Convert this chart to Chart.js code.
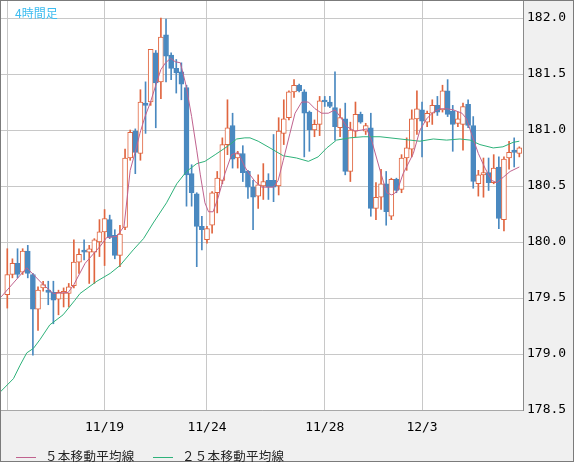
<!DOCTYPE html>
<html>
<head>
<meta charset="utf-8">
<script src="https://cdn.jsdelivr.net/npm/chart.js@4.4.1/dist/chart.umd.min.js"></script>
<style>
html, body { margin: 0; padding: 0; }
body { width: 574px; height: 462px; overflow: hidden; }
#wrap { position: relative; width: 574px; height: 462px; box-sizing: border-box;
        border: 1px solid #7b7b7b; background: #f0f0f0; }
#chart { position: absolute; left: 0; top: 0; }
#title { position: absolute; left: 14px; top: 3px; font: 12px "Noto Sans CJK JP", sans-serif;
         color: #3cbcf0; }
.lg { position: absolute; top: 445px; font: 12.5px "Noto Sans CJK JP", sans-serif; color: #222;
      letter-spacing: 0.3px; }
.lg span { display: inline-block; width: 20px; height: 1px; vertical-align: middle; margin-right: 9px; }
</style>
</head>
<body>
<div id="wrap">
  <canvas id="chart" width="572" height="460"></canvas>
  <div id="title">4時間足</div>
  <div class="lg" style="left:15px"><span style="background:#c0628e"></span>５本移動平均線</div>
  <div class="lg" style="left:152px"><span style="background:#2eb27a"></span>２５本移動平均線</div>
</div>
<script>
// 4h candles, index 0..100
var open  = [179.53,179.71,179.81,179.73,179.92,179.71,179.40,179.59,179.57,179.55,
             179.49,179.54,179.54,179.61,179.82,179.92,179.91,179.91,180.00,180.09,
             180.20,180.06,179.88,180.13,180.75,180.99,180.79,181.24,181.25,181.69,
             181.43,181.85,181.67,181.55,181.52,181.38,180.61,180.43,180.14,180.02,
             180.15,180.44,180.55,180.87,181.04,180.75,180.79,180.63,180.49,180.41,
             180.50,180.55,180.55,180.50,180.97,181.11,181.34,181.40,181.34,181.16,
             181.00,181.05,181.26,181.25,181.20,181.02,181.10,180.63,180.99,181.14,
             180.99,181.02,180.30,180.40,180.52,180.23,180.56,180.47,180.75,180.83,
             181.10,181.18,181.07,181.15,181.22,181.18,181.35,181.17,181.06,181.05,
             181.23,181.04,180.52,180.60,180.62,180.53,180.67,180.20,180.75,180.82,
             180.79];
var high  = [179.94,179.85,179.94,179.94,179.97,179.72,179.60,179.65,179.65,179.65,
             179.57,179.59,179.63,180.02,179.94,180.02,179.97,180.03,180.20,180.29,
             180.24,180.11,180.15,180.83,181.00,181.01,181.36,181.43,181.72,181.71,
             182.00,181.99,181.69,181.63,181.60,181.40,180.69,180.44,180.23,180.14,
             180.45,180.63,180.93,181.27,181.15,180.81,180.86,180.64,180.55,180.60,
             180.70,180.61,180.96,181.11,181.27,181.35,181.45,181.41,181.36,181.17,
             181.09,181.30,181.30,181.30,181.52,181.19,181.24,181.07,181.25,181.16,
             181.06,181.15,180.53,180.65,180.63,180.57,180.57,180.78,180.93,181.18,
             181.35,181.25,181.17,181.27,181.30,181.40,181.45,181.22,181.16,181.24,
             181.27,181.12,180.64,180.75,180.75,180.78,180.76,180.76,180.90,180.93,
             180.85];
var low   = [179.41,179.68,179.68,179.71,179.68,178.99,179.21,179.56,179.44,179.27,
             179.35,179.42,179.42,179.59,179.72,179.84,179.63,179.63,179.87,179.79,
             180.03,179.85,179.78,180.11,180.73,180.61,180.73,180.97,181.22,181.02,
             181.28,181.43,181.45,181.33,181.27,180.32,180.32,179.78,179.93,179.99,
             180.08,180.26,180.52,180.78,180.66,180.66,180.54,180.39,180.11,180.30,
             180.38,180.38,180.36,180.42,180.87,181.09,181.29,181.34,180.76,180.81,
             180.94,180.95,181.21,181.20,180.91,180.94,180.60,180.54,180.94,181.06,
             180.96,180.23,180.20,180.29,180.15,180.20,180.44,180.44,180.64,180.76,
             180.96,180.76,181.03,181.05,181.13,181.16,181.12,180.81,181.03,180.82,
             181.02,180.48,180.41,180.40,180.46,180.52,180.12,180.10,180.65,180.67,
             180.76];
var close = [179.71,179.81,179.71,179.92,179.72,179.40,179.57,179.62,179.55,179.48,
             179.55,179.56,179.60,179.82,179.89,179.91,179.94,180.02,180.09,180.21,
             180.04,179.88,180.07,180.75,180.98,180.80,181.25,181.22,181.72,181.42,
             181.83,181.66,181.55,181.51,181.41,180.60,180.44,180.14,180.11,180.12,
             180.44,180.57,180.87,181.02,180.74,180.79,180.62,180.49,180.40,180.51,
             180.54,180.49,180.49,180.99,181.10,181.34,181.40,181.35,181.15,181.00,
             181.05,181.26,181.25,181.21,181.03,181.11,180.63,181.00,181.14,181.07,
             181.04,180.30,180.40,180.52,180.27,180.56,180.46,180.75,180.84,181.10,
             181.19,181.08,181.15,181.22,181.16,181.35,181.14,181.05,181.10,181.21,
             181.04,180.54,180.60,180.62,180.53,180.66,180.21,180.74,180.80,180.80,
             180.84];

// moving averages (candle index, price)
var ma5Idx = [-1.2,3.8,7.0,9.0,11.9,13.0,15.2,18.1,19.4,21.4,22.8,24.0,24.9,25.9,26.9,27.9,
              29.0,30.0,30.9,31.9,32.8,33.8,34.9,36.0,37.0,37.7,38.6,39.3,40.2,41.2,42.5,
              43.8,45.1,46.4,47.4,48.4,49.7,50.7,52.0,52.9,53.9,55.2,56.2,57.5,58.8,60.1,
              61.4,62.7,64.0,65.0,66.3,67.9,69.2,70.2,71.2,72.8,74.1,75.1,76.1,77.3,79.3,
              80.6,81.9,83.2,84.5,85.8,87.1,88.8,89.7,90.7,92.0,93.3,94.6,95.6,96.9,98.2,100];
var ma5Val = [179.51,179.77,179.62,179.54,179.55,179.62,179.81,179.96,180.04,180.05,180.14,
              180.64,180.79,180.97,181.12,181.24,181.40,181.54,181.60,181.64,181.61,181.60,
              181.40,181.12,180.82,180.60,180.35,180.27,180.27,180.40,180.61,180.78,180.80,
              180.67,180.60,180.54,180.49,180.49,180.49,180.55,180.73,180.97,181.15,181.25,
              181.25,181.19,181.15,181.15,181.18,181.12,181.03,180.99,181.00,181.01,180.90,
              180.64,180.44,180.42,180.45,180.61,180.79,181.00,181.10,181.16,181.19,181.19,
              181.18,181.15,181.10,180.96,180.79,180.66,180.55,180.53,180.58,180.63,180.67];
var ma25Idx = [-1.4,1.2,2.5,3.8,5.1,6.4,8.3,10.9,13.2,14.2,17.5,20.1,22.0,24.6,26.6,28.5,
               31.1,33.1,35.0,37.0,38.6,40.6,43.2,44.8,46.4,47.4,49.0,51.3,53.9,56.5,58.8,
               60.7,62.4,64.3,66.9,69.5,72.8,76.7,80.6,83.2,85.8,88.4,90.4,92.3,94.9,96.8,
               98.8,100];
var ma25Val = [178.66,178.78,178.90,179.01,179.05,179.13,179.26,179.35,179.48,179.54,179.65,
               179.72,179.79,179.93,180.03,180.17,180.35,180.52,180.63,180.70,180.72,180.78,
               180.86,180.92,180.93,180.93,180.90,180.84,180.77,180.75,180.72,180.76,180.84,
               180.91,180.93,180.94,180.94,180.92,180.90,180.92,180.91,180.92,180.91,180.87,
               180.84,180.85,180.89,180.90];

var dateTickIdx = [0, 19, 39, 62, 81];
var dateTickLabels = ['', '11/19', '11/24', '11/28', '12/3'];
var priceTicks = [178.5, 179.0, 179.5, 180.0, 180.5, 181.0, 181.5, 182.0];

var upColor = '#e0653f';
var downColor = '#4a89c0';

var idx = open.map(function (v, i) { return i; });
var isUp = idx.map(function (i) { return close[i] >= open[i]; });

function pts(xs, ys) {
    return xs.map(function (x, i) { return {x: x, y: ys[i]}; });
}

var plotBg = {
    id: 'plotBg',
    beforeDraw: function (chart) {
        var a = chart.chartArea, c = chart.ctx;
        c.save();
        c.fillStyle = '#ffffff';
        c.fillRect(a.left, a.top, a.right - a.left, a.bottom - a.top);
        c.restore();
    }
};

Chart.defaults.font.family = '"DejaVu Sans Mono", monospace';
Chart.defaults.font.size = 13;
Chart.defaults.color = '#000';

new Chart(document.getElementById('chart'), {
    type: 'bar',
    data: {
        datasets: [{
            type: 'line',
            label: '5本移動平均線',
            data: pts(ma5Idx, ma5Val),
            borderColor: '#c0628e',
            borderWidth: 1,
            pointRadius: 0,
            tension: 0,
            order: 0
        }, {
            type: 'line',
            label: '25本移動平均線',
            data: pts(ma25Idx, ma25Val),
            borderColor: '#2eb27a',
            borderWidth: 1,
            pointRadius: 0,
            tension: 0,
            order: 0
        }, {
            label: 'body',
            data: idx.map(function (i) { return {x: i, y: [open[i], close[i]]}; }),
            backgroundColor: isUp.map(function (u) { return u ? '#ffffff' : downColor; }),
            borderColor: isUp.map(function (u) { return u ? upColor : downColor; }),
            borderWidth: 1,
            borderSkipped: false,
            barThickness: 5,
            minBarLength: 2,
            grouped: false,
            order: 1
        }, {
            label: 'wick',
            data: idx.map(function (i) { return {x: i, y: [low[i], high[i]]}; }),
            backgroundColor: isUp.map(function (u) { return u ? upColor : downColor; }),
            barThickness: 1,
            grouped: false,
            order: 2
        }]
    },
    options: {
        responsive: false,
        animation: false,
        layout: { padding: 0 },
        plugins: { legend: { display: false }, tooltip: { enabled: false } },
        scales: {
            x: {
                type: 'linear',
                min: -1.23,
                max: 100.72,
                offset: false,
                afterFit: function (s) {
                    s.height = 51;
                    s.paddingLeft = 0;
                    s.paddingRight = 0;
                },
                afterBuildTicks: function (s) {
                    s.ticks = dateTickIdx.map(function (v) { return {value: v}; });
                },
                ticks: {
                    padding: 10,
                    autoSkip: false,
                    maxRotation: 0,
                    callback: function (v) { return dateTickLabels[dateTickIdx.indexOf(v)]; }
                },
                grid: { color: '#c8c8c8', drawTicks: false, offset: false },
                border: { color: '#a8a8a8' }
            },
            y: {
                position: 'right',
                min: 178.5,
                max: 182.152,
                afterFit: function (s) {
                    s.width = 50;
                    s.paddingTop = 0;
                    s.paddingBottom = 0;
                },
                afterBuildTicks: function (s) {
                    s.ticks = priceTicks.map(function (v) { return {value: v}; });
                },
                ticks: {
                    padding: 4,
                    callback: function (v) { return Number(v).toFixed(1); }
                },
                grid: { color: '#c8c8c8', drawTicks: false },
                border: { color: '#8a8a8a' }
            }
        }
    },
    plugins: [plotBg]
});
</script>
</body>
</html>
